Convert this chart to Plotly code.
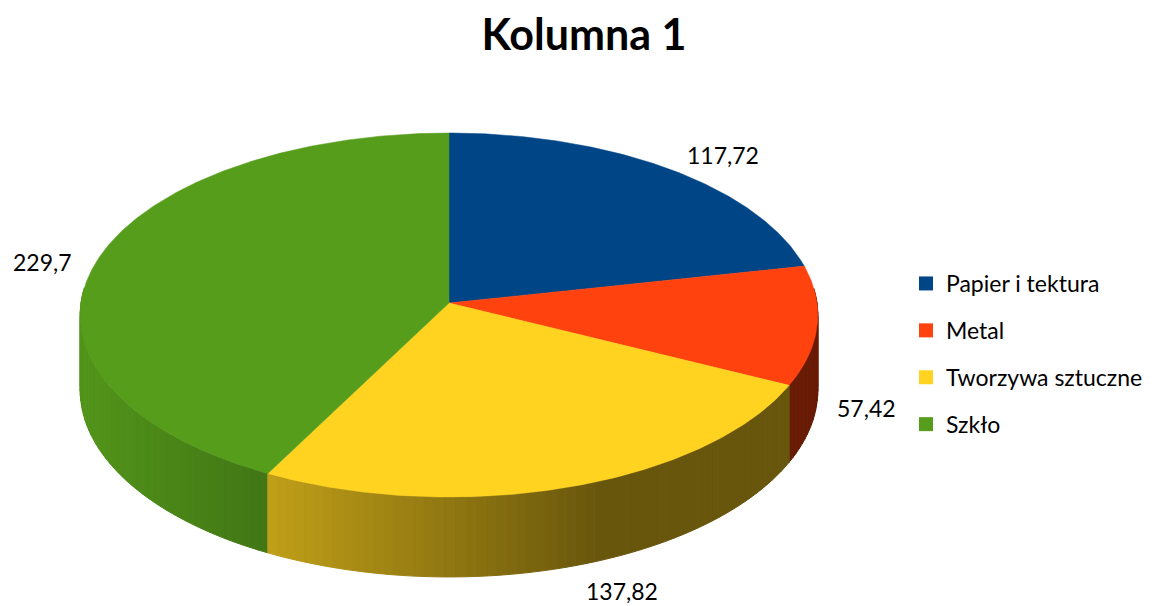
import numpy as np
import plotly.graph_objects as go

# ---- data ----
title_text = "Kolumna 1"
categories = ["Papier i tektura", "Metal", "Tworzywa sztuczne", "Szkło"]
values = [117.72, 57.42, 137.82, 229.7]
colors = ["#004586", "#ff420e", "#ffd320", "#579d1c"]

# ---- geometry / style constants (pixels of the page) ----
PAGE_W, PAGE_H = 1157, 606
OFF = 8                    # default body margin of the html page
W, HGT = PAGE_W - OFF, PAGE_H - OFF
CX, CY = 449, 303          # pie centre on screen
RX, RY = 368, 181.2        # ellipse radii
K = 0.0659                 # perspective factor
DEPTH = 74.7               # thickness of the pie
FONT = "Lato"
LABEL_POS = [(723, 155), (866, 408), (622, 591), (42, 262)]


def hex2rgb(h):
    h = h.lstrip("#")
    return tuple(int(h[i:i + 2], 16) for i in (0, 2, 4))


def shade(hexcol, f):
    r, g, b = hex2rgb(hexcol)
    return "rgb(%d,%d,%d)" % (min(255, r * f), min(255, g * f), min(255, b * f))


def proj(theta_deg, z=0.0):
    t = np.radians(theta_deg)
    s, c = np.sin(t), np.cos(t)
    d = 1 + K * s
    return CX + RX * c / d, CY - RY * s / d + z * DEPTH / d


def side_factor(x):
    return float(np.clip(0.95 - 0.54 * (x - 80) / 520.0, 0.41, 0.95))


total = sum(values)
bounds = [90.0]
for v in values:
    bounds.append(bounds[-1] - 360.0 * v / total)

fig = go.Figure()

# ---- side walls (strips, back to front) ----
strips = []
for i, col in enumerate(colors):
    a0, a1 = bounds[i], bounds[i + 1]
    n = max(2, int(np.ceil(abs(a0 - a1) / 1.5)))
    angs = np.linspace(a0, a1, n + 1)
    for j in range(n):
        t1, t2 = angs[j], angs[j + 1]
        tm = 0.5 * (t1 + t2)
        sm = np.sin(np.radians(tm))
        if sm > 0.08:
            continue
        x1, y1 = proj(t1, 0)
        x2, y2 = proj(t2, 0)
        x3, y3 = proj(t2, 1)
        x4, y4 = proj(t1, 1)
        xm, _ = proj(tm, 0)
        c = shade(col, side_factor(xm))
        strips.append((sm, [x1, x2, x3, x4, x1], [y1, y2, y3, y4, y1], c))

strips.sort(key=lambda s: -s[0])
for _, xs, ys, c in strips:
    fig.add_trace(go.Scatter(x=xs, y=ys, mode="lines", fill="toself",
                             fillcolor=c, line=dict(color=c, width=1),
                             hoverinfo="skip", showlegend=False))

# ---- top faces ----
for i, (cat, col) in enumerate(zip(categories, colors)):
    a0, a1 = bounds[i], bounds[i + 1]
    angs = np.linspace(a0, a1, int(abs(a0 - a1) * 2) + 2)
    xs, ys = proj(angs, 0)
    xs = [CX] + list(xs) + [CX]
    ys = [CY] + list(ys) + [CY]
    fig.add_trace(go.Scatter(x=xs, y=ys, mode="lines", fill="toself",
                             fillcolor=col, line=dict(color=col, width=0.5),
                             name=cat, hoverinfo="name", showlegend=False))

# ---- legend entries ----
for i, (cat, col) in enumerate(zip(categories, colors)):
    fig.add_trace(go.Scatter(x=[None], y=[None], mode="markers", name=cat,
                             legendgroup="g%d" % i,
                             marker=dict(symbol="square", size=14, color=col)))

# ---- data labels ----
for (lx, ly), v in zip(LABEL_POS, values):
    fig.add_annotation(x=lx, y=ly, xref="x", yref="y", showarrow=False,
                       text=("%g" % v).replace(".", ","),
                       font=dict(family=FONT, size=23, color="#000000"))

fig.update_layout(
    width=W, height=HGT,
    margin=dict(l=0, r=0, t=0, b=0, pad=0),
    paper_bgcolor="white", plot_bgcolor="white",
    title=dict(text="<b>%s</b>" % title_text, x=(584 - OFF) / W, xanchor="center",
               y=1 - (35 - OFF) / HGT, yanchor="middle",
               font=dict(family=FONT, size=43, color="#000000")),
    xaxis=dict(range=[OFF, PAGE_W], visible=False, fixedrange=True),
    yaxis=dict(range=[PAGE_H, OFF], visible=False, fixedrange=True),
    legend=dict(x=(906 - OFF) / W, xanchor="left", y=1 - (262 - OFF) / HGT,
                yanchor="top",
                font=dict(family=FONT, size=23, color="#000000"),
                tracegroupgap=14, bgcolor="rgba(0,0,0,0)"),
    showlegend=True,
)

fig.write_html("out.html")
